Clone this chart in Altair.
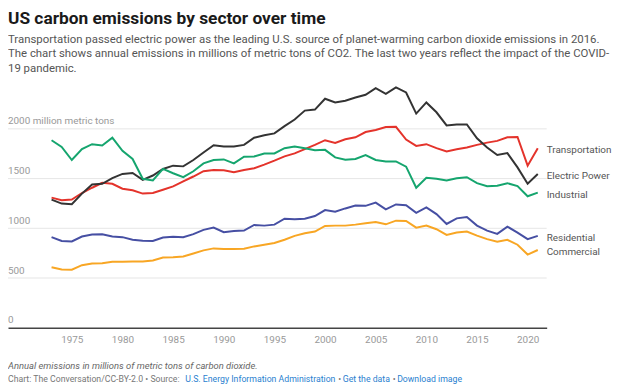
import altair as alt
import pandas as pd

# ---------------- data (millions of metric tons CO2) ----------------
years = list(range(1973, 2022))
transportation = [1309, 1282, 1289, 1355, 1408, 1458, 1448, 1398, 1382, 1349, 1355, 1388, 1421, 1471,
                  1521, 1574, 1587, 1584, 1564, 1587, 1604, 1640, 1680, 1723, 1753, 1796, 1839,
                  1886, 1859, 1896, 1915, 1968, 1988, 2018, 2021, 1892, 1829, 1846, 1806, 1773,
                  1796, 1812, 1839, 1862, 1879, 1915, 1918, 1630, 1806]
electric_power = [1289, 1249, 1242, 1349, 1441, 1448, 1504, 1547, 1557, 1488, 1531, 1597, 1630, 1623,
                  1687, 1763, 1836, 1822, 1822, 1839, 1911, 1935, 1955, 2028, 2094, 2184, 2194,
                  2303, 2266, 2283, 2316, 2343, 2409, 2353, 2418, 2366, 2154, 2266, 2167, 2035,
                  2045, 2045, 1906, 1812, 1737, 1756, 1613, 1448, 1547]
industrial = [1886, 1819, 1687, 1796, 1846, 1832, 1911, 1779, 1697, 1498, 1481, 1597, 1554, 1514,
              1574, 1653, 1687, 1693, 1653, 1720, 1723, 1753, 1753, 1806, 1822, 1806, 1786,
              1789, 1713, 1690, 1697, 1737, 1687, 1673, 1673, 1620, 1408, 1508, 1498, 1481,
              1504, 1514, 1454, 1424, 1428, 1454, 1424, 1322, 1359]
residential = [911, 872, 868, 917, 937, 941, 917, 911, 885, 875, 872, 908, 914, 911,
               941, 984, 1007, 961, 974, 977, 1034, 1027, 1037, 1096, 1090, 1096, 1123,
               1183, 1166, 1200, 1229, 1226, 1259, 1190, 1240, 1233, 1156, 1210, 1143, 1044,
               1100, 1113, 1027, 977, 944, 1017, 957, 891, 924]
commercial = [609, 586, 583, 629, 646, 649, 663, 663, 666, 666, 676, 706, 709, 716,
              746, 778, 798, 792, 792, 795, 818, 835, 852, 885, 924, 951, 967,
              1024, 1027, 1027, 1037, 1050, 1064, 1040, 1077, 1074, 1007, 1027, 991, 934,
              957, 967, 927, 891, 865, 885, 835, 736, 782]

sectors = ["Transportation", "Electric Power", "Industrial", "Residential", "Commercial"]
series = [transportation, electric_power, industrial, residential, commercial]
colors = ["#e4332b", "#333333", "#15a56e", "#464fa3", "#f8a624"]

x_ticks = [1975, 1980, 1985, 1990, 1995, 2000, 2005, 2010, 2015, 2020]
y_ticks = [0, 500, 1000, 1500, 2000]
y_tick_labels = ["0", "500", "1000", "1500", "2000 million metric tons"]

title = "US carbon emissions by sector over time"
subtitle = [
    "Transportation passed electric power as the leading U.S. source of planet-warming carbon dioxide emissions in 2016.",
    "The chart shows annual emissions in millions of metric tons of CO2. The last two years reflect the impact of the COVID-",
    "19 pandemic.",
]
note_line = "Annual emissions in millions of metric tons of carbon dioxide."

rows = []
for name, vals in zip(sectors, series):
    for yr, v in zip(years, vals):
        rows.append({"year": yr, "value": v, "sector": name})
df = pd.DataFrame(rows)

FONT = "Roboto"
W, H = 544, 244
x_scale = alt.Scale(domain=[1968.7, 2021.88], nice=False, zero=False)
y_scale = alt.Scale(domain=[0, 2430], nice=False)
color_scale = alt.Scale(domain=sectors, range=colors)

grid = alt.Chart(pd.DataFrame({"v": y_ticks[1:]})).mark_rule(
    color="#e6e6e6", strokeWidth=1
).encode(y=alt.Y("v:Q", scale=y_scale, axis=None))

lines = alt.Chart(df).mark_line(strokeWidth=2).encode(
    x=alt.X("year:Q", scale=x_scale, title=None,
            axis=alt.Axis(values=x_ticks, format="d", grid=False, ticks=False, tickSize=0,
                          labelPadding=7, labelColor="#999999", labelFontSize=10,
                          labelFont=FONT, domainColor="#444444", domainWidth=1.5)),
    y=alt.Y("value:Q", scale=y_scale, axis=None),
    color=alt.Color("sector:N", scale=color_scale, legend=None),
)

ylab = alt.Chart(pd.DataFrame({"v": y_ticks, "t": y_tick_labels})).mark_text(
    align="left", baseline="alphabetic", dy=-4.5, fontSize=10, color="#999999", font=FONT
).encode(x=alt.value(0), y=alt.Y("v:Q", scale=y_scale, axis=None), text="t:N")

endlab = alt.Chart(df).transform_filter(alt.datum.year == years[-1]).mark_text(
    align="left", baseline="middle", dx=9, dy=2, fontSize=10, color="#555555", font=FONT
).encode(x=alt.X("year:Q", scale=x_scale), y=alt.Y("value:Q", scale=y_scale), text="sector:N")


def note(text, x, y, size, color, weight="normal", style="normal"):
    return alt.Chart(alt.Data(values=[{}])).mark_text(
        text=text, align="left", baseline="alphabetic", fontSize=size, color=color,
        fontWeight=weight, fontStyle=style, font=FONT
    ).encode(x=alt.value(x), y=alt.value(y))


FS = 8.8
notes = [
    note(title, 0, -62.5, 17.5, "#1a1a1a", weight="bold"),
    note(subtitle[0], 0, -44, 11.5, "#555555"),
    note(subtitle[1], 0, -29, 11.5, "#555555"),
    note(subtitle[2], 0, -14, 11.5, "#555555"),
    note(note_line, 0, 286, 9.5, "#666666", style="italic"),
    note("Chart: The Conversation/CC-BY-2.0 \u2022 Source:", 0, 299, FS, "#777777"),
    note("U.S. Energy Information Administration", 179, 299, FS, "#2a7fcf"),
    note("\u2022", 333.5, 299, FS, "#777777"),
    note("Get the data", 338, 299, FS, "#2a7fcf"),
    note("\u2022", 388.5, 299, FS, "#777777"),
    note("Download image", 393, 299, FS, "#2a7fcf"),
]

chart = alt.layer(grid, lines, ylab, endlab, *notes).properties(
    width=W, height=H,
    padding={"left": 0, "top": 77, "right": 70, "bottom": 63},
    autosize=alt.AutoSizeParams(type="none"),
).configure_view(stroke=None)

chart.save("out.html", embed_options={"renderer": "svg", "actions": False})
